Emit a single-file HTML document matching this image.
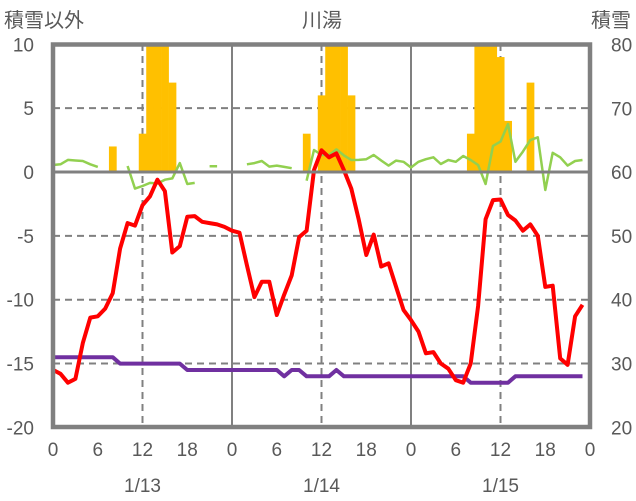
<!DOCTYPE html>
<html><head><meta charset="utf-8"><style>
html,body{margin:0;padding:0;background:#fff;}
svg{display:block;font-family:"Liberation Sans","Noto Sans CJK JP",sans-serif;}
</style></head><body>
<svg id="chart" width="636" height="501" viewBox="0 0 636 501" xmlns="http://www.w3.org/2000/svg">
<g id="grid"></g>
<g id="bars"></g>
<g id="lines"></g>
<g id="frame"></g>
<g id="labels" fill="#595959" font-size="19"></g>
</svg>
<script>
// hourly data, hour 0 = 1/13 00:00
const barHours = [8,12,13,14,15,16, 34,36,37,38,39,40, 56,57,58,59,60,61,64];
const barValues = [2,3,10,10,10,7, 3,6,10,10,10,6, 3,10,10,10,9,4,7];
const tempValues = [-15.5,-15.8,-16.5,-16.2,-13.4,-11.4,-11.3,-10.7,-9.5,-6.0,-4.0,-4.2,-2.6,-1.9,-0.6,-1.5,-6.3,-5.8,-3.5,-3.45,-3.9,-4.0,-4.1,-4.3,
 -4.6,-4.75,-7.3,-9.8,-8.6,-8.6,-11.2,-9.6,-8.1,-5.1,-4.6,0.15,1.7,1.15,1.46,0.15,-1.3,-3.75,-6.5,-4.9,-7.4,-7.15,-9.0,-10.8,
 -11.6,-12.5,-14.2,-14.1,-15.0,-15.4,-16.3,-16.5,-15.0,-10.5,-3.7,-2.2,-2.15,-3.37,-3.8,-4.6,-4.1,-5.0,-9.0,-8.9,-14.6,-15.1,-11.3,-10.4];
const otherValues = [0.55,0.6,0.95,0.9,0.86,0.6,0.4,null,null,null,0.47,-1.3,-1.1,-0.85,-0.9,-0.6,-0.5,0.7,-0.94,-0.85,null,0.45,0.45,null,
 null,null,0.6,0.7,0.86,0.42,0.5,0.4,0.3,null,-0.68,1.72,1.33,1.33,1.77,1.3,0.94,0.95,1.0,1.33,0.9,0.5,0.89,0.8,
 0.35,0.8,1.0,1.15,0.63,0.94,0.8,1.25,0.94,0.55,-0.94,2.04,2.38,3.76,0.8,1.6,2.5,2.72,-1.41,1.5,1.15,0.5,0.86,0.94];
const snowValues = [31,31,31,31,31,31,31,31,31,30,30,30,30,30,30,30,30,30,29,29,29,29,29,29,
 29,29,29,29,29,29,29,28,29,29,28,28,28,28,29,28,28,28,28,28,28,28,28,28,
 28,28,28,28,28,28,28,28,27,27,27,27,27,27,28,28,28,28,28,28,28,28,28,28];
const leftTicks = [10,5,0,-5,-10,-15,-20];
const rightTicks = [80,70,60,50,40,30,20];
const hourTicks = ["0","6","12","18","0","6","12","18","0","6","12","18","0"];
const dateLabels = ["1/13","1/14","1/15"];

const NS="http://www.w3.org/2000/svg";
const X0=53, PXH=179/24;
const X=h=>X0+h*PXH;
const Y=v=>172-v*12.77;
const YR=s=>427.4-(s-20)*6.383;
function mk(tag,attrs,parent){const e=document.createElementNS(NS,tag);for(const k in attrs)e.setAttribute(k,attrs[k]);parent.appendChild(e);return e;}
const grid=document.getElementById('grid'),bars=document.getElementById('bars'),lines=document.getElementById('lines'),frame=document.getElementById('frame'),labels=document.getElementById('labels');

leftTicks.forEach(v=>{
  if(v===10||v===-20) return;
  if(v===0){
    const l=mk('line',{x1:X(0),x2:X(72),y1:Y(0),y2:Y(0),stroke:'#808080','stroke-width':3},frame);
    
    
  } else {
    const l=mk('line',{x1:X(0),x2:X(72),y1:Y(v),y2:Y(v),stroke:'#808080','stroke-width':2,'stroke-dasharray':'7,5'},grid);
    
    
  }
});
[12,36,60].forEach(h=>{
  const l=mk('line',{x1:X(h),x2:X(h),y1:44,y2:427,stroke:'#808080','stroke-width':2,'stroke-dasharray':'7,5'},grid);
  
  
});
[24,48].forEach(h=>{
  const l=mk('line',{x1:X(h),x2:X(h),y1:44,y2:427,stroke:'#808080','stroke-width':2},grid);
  
  
});
barHours.forEach((h,i)=>{
  const v=barValues[i];
  const r=mk('rect',{x:X(h)-PXH/2,y:Y(v),width:PXH+0.3,height:Y(0)-Y(v),fill:'#FFC000'},bars);
  
  
});
function path(vals,yf){
  let d='',pen=false;
  vals.forEach((v,h)=>{
    if(v===null){pen=false;return;}
    d+=(pen?'L':'M')+X(h).toFixed(1)+','+yf(v).toFixed(1)+' ';pen=true;
  });
  return d;
}
const g=mk('path',{d:path(otherValues,Y),fill:'none',stroke:'#92D050','stroke-width':2.5,'stroke-linejoin':'round'},lines);


const p=mk('path',{d:path(snowValues,YR),fill:'none',stroke:'#7030A0','stroke-width':4,'stroke-linejoin':'round'},lines);


const t=mk('path',{d:path(tempValues,Y),fill:'none',stroke:'#FF0000','stroke-width':4,'stroke-linejoin':'round'},lines);


const fr=mk('rect',{x:X(0),y:44.5,width:X(72)-X(0),height:427-44.5,fill:'none',stroke:'#808080','stroke-width':4.5},frame);


leftTicks.forEach(v=>{
  const e=mk('text',{x:34,y:Y(v)+7,'text-anchor':'end'},labels);e.textContent=v;
  
  
});
rightTicks.forEach(s=>{
  const e=mk('text',{x:611,y:YR(s)+7,'text-anchor':'start'},labels);e.textContent=s;
  
  
});
hourTicks.forEach((s,i)=>{
  const e=mk('text',{x:X(i*6),y:456,'text-anchor':'middle'},labels);e.textContent=s;
  
  
});
dateLabels.forEach((s,i)=>{
  const e=mk('text',{x:X(12+24*i),y:492,'text-anchor':'middle'},labels);e.textContent=s;
  
  
});
[["積雪以外",4,'start','left-axis-title'],["川湯",322,'middle','chart-title'],["積雪",631,'end','right-axis-title']].forEach(a=>{
  const e=mk('text',{x:a[1],y:27,'text-anchor':a[2],'font-size':20},labels);e.textContent=a[0];
  
  
});
</script>
</body></html>
